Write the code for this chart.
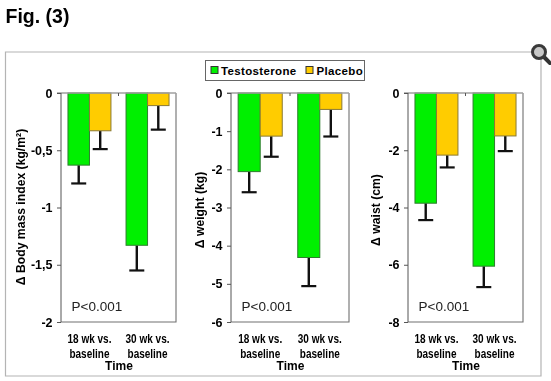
<!DOCTYPE html>
<html>
<head>
<meta charset="utf-8">
<script src="https://cdn.jsdelivr.net/npm/d3@7"></script>
<style>
  html, body { margin: 0; padding: 0; background: #fff; }
  svg { display: block; font-family: "Liberation Sans", Arial, sans-serif; filter: blur(0.35px); }
</style>
</head>
<body>
<div id="chart"></div>
<script>
// Data
const times = ["18 wk", "30 wk"]
const groups = ["Testosterone", "Placebo"]

const bmiTestosterone = [-0.63, -1.33]
const bmiPlacebo = [-0.33, -0.11]
const bmiTestosteroneErr = [-0.79, -1.55]
const bmiPlaceboErr = [-0.49, -0.32]
const bmiTicks = [0, -0.5, -1, -1.5, -2]

const weightTestosterone = [-2.06, -4.31]
const weightPlacebo = [-1.13, -0.43]
const weightTestosteroneErr = [-2.6, -5.06]
const weightPlaceboErr = [-1.67, -1.14]
const weightTicks = [0, -1, -2, -3, -4, -5, -6]

const waistTestosterone = [-3.85, -6.05]
const waistPlacebo = [-2.17, -1.5]
const waistTestosteroneErr = [-4.44, -6.78]
const waistPlaceboErr = [-2.6, -2.03]
const waistTicks = [0, -2, -4, -6, -8]

// Chart dimensions
const width = 551
const height = 381

// Colors
const testosteroneColor = "#00f000"
const placeboColor = "#ffcc00"
const frameColor = "#707070"
const errorColor = "#111111"

const panels = [
  {
    label: "\u0394 Body mass index (kg/m\u00b2)",
    left: 61, right: 176, labelX: 25, labelY: 207,
    min: -2, ticks: bmiTicks,
    format: (d) => String(d).replace(".", ","),
    values: [bmiTestosterone, bmiPlacebo],
    errors: [bmiTestosteroneErr, bmiPlaceboErr],
  },
  {
    label: "\u0394 weight (kg)",
    left: 231, right: 349, labelX: 204, labelY: 210,
    min: -6, ticks: weightTicks,
    format: String,
    values: [weightTestosterone, weightPlacebo],
    errors: [weightTestosteroneErr, weightPlaceboErr],
  },
  {
    label: "\u0394 waist (cm)",
    left: 408, right: 523, labelX: 380, labelY: 210,
    min: -8, ticks: waistTicks,
    format: String,
    values: [waistTestosterone, waistPlacebo],
    errors: [waistTestosteroneErr, waistPlaceboErr],
  },
]

const marginTop = 93
const marginBottom = 322

const svg = d3
  .select("#chart")
  .append("svg")
  .attr("width", width)
  .attr("height", height)
  .attr("viewBox", [0, 0, width, height])

// Title
svg
  .append("text")
  .attr("x", 5.5)
  .attr("y", 23)
  .style("font-size", "19.5px")
  .style("font-weight", "bold")
  .text("Fig. (3)")

// Outer frame
svg
  .append("path")
  .attr("d", "M5.5,52H541V376H5.5Z")
  .attr("fill", "none")
  .attr("stroke", "#b4b4b4")
  .attr("stroke-width", 1.2)

// Magnifier icon
const icon = svg.append("g").attr("transform", "translate(539,52)")
icon
  .append("line")
  .attr("x1", 5)
  .attr("y1", 5)
  .attr("x2", 11)
  .attr("y2", 11)
  .attr("stroke", "#333")
  .attr("stroke-width", 4)
  .attr("stroke-linecap", "round")
icon
  .append("circle")
  .attr("r", 6.5)
  .attr("fill", "#c8c8c8")
  .attr("stroke", "#3a3a3a")
  .attr("stroke-width", 3)

// Legend
const legend = svg.append("g")
legend
  .append("rect")
  .attr("x", 205.5)
  .attr("y", 60.5)
  .attr("width", 159)
  .attr("height", 20)
  .attr("fill", "#fff")
  .attr("stroke", "#666")
const legendItems = [
  { x: 211, textX: 221, color: testosteroneColor, name: groups[0] },
  { x: 306, textX: 316.5, color: placeboColor, name: groups[1] },
]
legendItems.forEach((d) => {
  legend
    .append("rect")
    .attr("x", d.x)
    .attr("y", 66.5)
    .attr("width", 7)
    .attr("height", 7)
    .attr("fill", d.color)
    .attr("stroke", "#333")
  legend
    .append("text")
    .attr("x", d.textX)
    .attr("y", 75)
    .style("font-size", "11.5px")
    .style("font-weight", "bold")
    .style("letter-spacing", "0.35px")
    .text(d.name)
})

panels.forEach((p) => {
  const g = svg.append("g")

  // Define the scales
  const x0 = d3
    .scaleBand()
    .domain(times)
    .range([p.left, p.right])
    .paddingInner(0.26)
    .paddingOuter(0.12)
  const x1 = d3
    .scaleBand()
    .domain(groups)
    .range([0, x0.bandwidth()])
  const y = d3
    .scaleLinear()
    .domain([0, p.min])
    .range([marginTop, marginBottom])

  // Error bars go behind the bars
  groups.forEach((group, i) => {
    times.forEach((time, j) => {
      const cx = x0(time) + x1(group) + x1.bandwidth() / 2
      g.append("line")
        .attr("x1", cx)
        .attr("x2", cx)
        .attr("y1", y(p.values[i][j]))
        .attr("y2", y(p.errors[i][j]))
        .attr("stroke", errorColor)
        .attr("stroke-width", 2.4)
      g.append("line")
        .attr("x1", cx - 7.5)
        .attr("x2", cx + 7.5)
        .attr("y1", y(p.errors[i][j]))
        .attr("y2", y(p.errors[i][j]))
        .attr("stroke", errorColor)
        .attr("stroke-width", 2.2)
    })
  })

  // Bars
  groups.forEach((group, i) => {
    g.selectAll(null)
      .data(times)
      .join("rect")
      .attr("x", (d) => x0(d) + x1(group))
      .attr("y", y(0))
      .attr("width", x1.bandwidth())
      .attr("height", (d, j) => y(p.values[i][j]) - y(0))
      .attr("fill", i === 0 ? testosteroneColor : placeboColor)
      .attr("stroke", i === 0 ? "#2e7d2e" : "#8a7a35")
      .attr("stroke-width", 1)
  })

  // Plot frame
  g.append("path")
    .attr("d", `M${p.right},${marginTop}V${marginBottom}H${p.left}`)
    .attr("fill", "none")
    .attr("stroke", frameColor)
    .attr("stroke-width", 1.1)
  g.append("line")
    .attr("x1", p.left - 4)
    .attr("x2", p.right)
    .attr("y1", marginTop)
    .attr("y2", marginTop)
    .attr("stroke", "#a0a0a0")
    .attr("stroke-width", 1.5)
  g.append("line")
    .attr("x1", (p.left + p.right) / 2)
    .attr("x2", (p.left + p.right) / 2)
    .attr("y1", marginTop)
    .attr("y2", marginTop + 3)
    .attr("stroke", "#555")

  // Add the y-axis
  g.append("g")
    .attr("transform", `translate(${p.left},0)`)
    .call(
      d3
        .axisLeft(y)
        .tickValues(p.ticks)
        .tickFormat(p.format)
        .tickSize(4)
        .tickPadding(4.5)
    )
    .call((a) => a.select(".domain").attr("stroke", "#555").attr("d", `M0,${marginTop}V${marginBottom}`))
    .call((a) => a.selectAll(".tick line").attr("stroke", "#555"))
    .call((a) =>
      a
        .selectAll(".tick text")
        .style("fill", "#000")
        .style("font-size", "12.5px")
        .style("font-weight", "bold")
        .style("font-family", '"Liberation Sans", Arial, sans-serif')
    )

  // Category labels, squeezed to the narrow width of the original
  times.forEach((time) => {
    const cx = x0(time) + x0.bandwidth() / 2
    g.append("text")
      .attr("x", cx)
      .attr("y", 343)
      .attr("text-anchor", "middle")
      .attr("textLength", 44)
      .attr("lengthAdjust", "spacingAndGlyphs")
      .style("font-size", "12px")
      .style("font-weight", "bold")
      .text(`${time} vs.`)
    g.append("text")
      .attr("x", cx)
      .attr("y", 358)
      .attr("text-anchor", "middle")
      .attr("textLength", 40)
      .attr("lengthAdjust", "spacingAndGlyphs")
      .style("font-size", "12px")
      .style("font-weight", "bold")
      .text("baseline")
  })

  // X axis title
  g.append("text")
    .attr("x", (p.left + p.right) / 2 + 0.5)
    .attr("y", 370)
    .attr("text-anchor", "middle")
    .style("font-size", "12px")
    .style("font-weight", "bold")
    .text("Time")

  // Y axis title
  g.append("text")
    .attr("transform", `translate(${p.labelX},${p.labelY}) rotate(-90)`)
    .attr("text-anchor", "middle")
    .style("font-size", "12.2px")
    .style("font-weight", "bold")
    .text(p.label)

  // P value
  g.append("text")
    .attr("x", p.left + 10.5)
    .attr("y", 311)
    .style("font-size", "13.5px")
    .style("fill", "#222")
    .text("P<0.001")
})
</script>
</body>
</html>
